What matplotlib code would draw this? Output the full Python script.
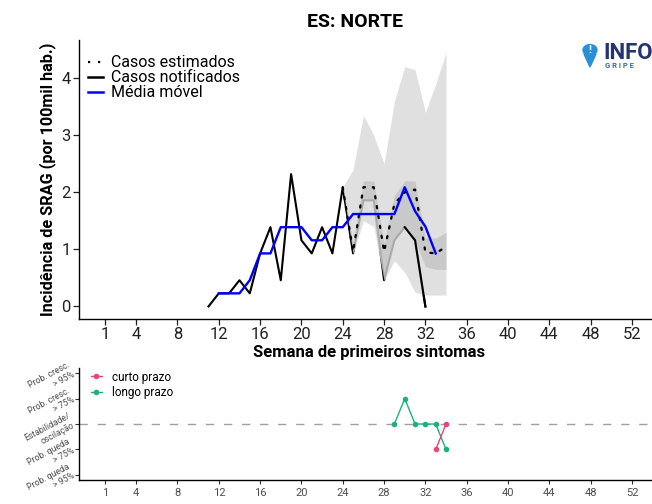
import matplotlib
matplotlib.use('Agg')
import matplotlib.pyplot as plt
import matplotlib.transforms as mtransforms
from matplotlib.lines import Line2D
from matplotlib.patches import Circle, Polygon

plt.rcParams['font.family'] = ['Roboto', 'DejaVu Sans']

# semanas epidemiologicas e incidencia (por 100mil hab.)
weeks_notif = list(range(11, 33))
notificados = [0.00, 0.23, 0.23, 0.46, 0.23, 0.93, 1.39, 0.46, 2.32, 1.16, 0.93,
               1.39, 0.93, 2.09, 0.93, 1.86, 1.86, 0.46, 1.16, 1.39, 1.16, 0.00]
weeks_mm = list(range(12, 34))
media_movel = [0.23, 0.23, 0.23, 0.46, 0.93, 0.93, 1.39, 1.39, 1.39, 1.16, 1.16,
               1.39, 1.39, 1.62, 1.62, 1.62, 1.62, 1.62, 2.09, 1.67, 1.40, 0.93]
weeks_est = list(range(24, 35))
estimados = [2.09, 0.96, 2.09, 2.09, 0.96, 1.80, 2.00, 2.05, 0.95, 0.93, 1.05]
ic95_inf = [2.09, 0.93, 1.50, 1.40, 0.46, 0.80, 0.60, 0.25, 0.20, 0.20, 0.20]
ic95_sup = [2.09, 2.40, 3.35, 3.00, 2.50, 3.60, 4.20, 4.15, 3.40, 3.90, 4.45]
ic50_inf = [2.09, 0.93, 1.86, 1.86, 0.46, 1.16, 1.39, 1.16, 0.70, 0.65, 0.65]
ic50_sup = [2.09, 1.10, 2.20, 2.20, 1.10, 1.95, 2.20, 2.20, 1.20, 1.20, 1.30]

# tendencia
weeks_longo = [29, 30, 31, 32, 33, 34]
longo_prazo = [0, 1, 0, 0, 0, -1]
weeks_curto = [33, 34]
curto_prazo = [-1, 0]
tend_levels = [2, 1, 0, -1, -2]
tend_labels = ['Prob. cresc.\n> 95%', 'Prob. cresc.\n> 75%', 'Estabilidade/\noscilação',
               'Prob. queda\n> 75%', 'Prob. queda\n> 95%']

xticks = [1, 4, 8, 12, 16, 20, 24, 28, 32, 36, 40, 44, 48, 52]

fig = plt.figure(figsize=(6.52, 5.04), dpi=100)
ax = fig.add_axes([0.1209, 0.367, 0.8888, 0.5536])
ax2 = fig.add_axes([0.1209, 0.0476, 0.8888, 0.2222])

# painel principal
ax.plot(weeks_notif, notificados, color='black', lw=1.5, zorder=2)
ax.fill_between(weeks_est, ic95_inf, ic95_sup, color='#d9d9d9', alpha=0.8, lw=0, zorder=3)
ax.fill_between(weeks_est, ic50_inf, ic50_sup, color='#a0a0a0', alpha=0.35, lw=0, zorder=3)
ax.plot(weeks_notif[-3:], notificados[-3:], color='black', lw=1.5, zorder=4)
ax.plot(weeks_est, estimados, color='black', lw=1.6, linestyle=(0, (1, 3.5)),
        dash_capstyle='round', zorder=5)
ax.plot(weeks_mm, media_movel, color='#0000ff', lw=1.7, zorder=6)

ax.set_xlim(-1.55, 54.55)
ax.set_ylim(-0.22, 4.67)
ax.set_xticks(xticks)
ax.set_yticks([0, 1, 2, 3, 4])
ax.tick_params(labelsize=12, length=4, width=0.9, colors='#222222', pad=2)
for s in ['top', 'right']:
    ax.spines[s].set_visible(False)
for s in ['left', 'bottom']:
    ax.spines[s].set_linewidth(1.0)
ax.set_xlabel('Semana de primeiros sintomas', fontsize=12, fontweight='bold', labelpad=2)
ax.set_ylabel('Incidência de SRAG (por 100mil hab.)', fontsize=11.7, fontweight='bold', labelpad=4)

handles = [Line2D([], [], color='black', lw=1.6, linestyle=(0, (1, 3.5))),
           Line2D([], [], color='black', lw=1.8),
           Line2D([], [], color='#0000ff', lw=1.8)]
ax.legend(handles, ['Casos estimados', 'Casos notificados', 'Média móvel'],
          loc='upper left', frameon=False, fontsize=11.5, handlelength=0.9,
          handletextpad=0.5, labelspacing=0.0, borderaxespad=0.2,
          bbox_to_anchor=(0.0, 0.98))

fig.text(355 / 652, 1 - 22 / 504, 'ES: NORTE', ha='center', va='center',
         fontsize=14, fontweight='bold')

# logo
fig.patches.append(Circle((590 / 652, 1 - 50 / 504), 7 / 652, transform=fig.transFigure,
                          color='#2a8fd4', zorder=10))
fig.patches.append(Polygon([(584 / 652, 1 - 54 / 504), (596 / 652, 1 - 54 / 504),
                            (590 / 652, 1 - 67 / 504)], transform=fig.transFigure,
                           color='#2a8fd4', zorder=10))
fig.text(590 / 652, 1 - 50 / 504, '!', ha='center', va='center', fontsize=8,
         fontweight='bold', color='white', zorder=11)
fig.text(603 / 652, 1 - 59 / 504, 'INFO', ha='left', va='baseline', fontsize=16,
         fontweight='bold', color='#23346e')
fig.text(605 / 652, 1 - 66 / 504, 'G R I P E', ha='left', va='center', fontsize=5.5,
         fontweight='bold', color='#2e6db4')

# painel de tendencia
ax2.axhline(0, color='#a0a0a0', lw=1.0, linestyle=(0, (6, 7)), zorder=1)
ax2.plot(weeks_curto, curto_prazo, color='#e8457a', lw=1.0, marker='o', ms=3, zorder=3)
ax2.plot(weeks_longo, longo_prazo, color='#1db07e', lw=1.0, marker='o', ms=3, zorder=2)
ax2.set_xlim(-1.55, 54.55)
ax2.set_ylim(-2.2, 2.2)
ax2.set_xticks(xticks)
ax2.set_yticks(tend_levels)
ax2.set_yticklabels(tend_labels, rotation=28, ha='right', va='center',
                    rotation_mode='anchor', multialignment='right')
ax2.tick_params(axis='x', labelsize=8, length=3, width=0.8, colors='#333333',
                labelcolor='#4d4d4d', pad=3)
ax2.tick_params(axis='y', labelsize=6.2, length=3, width=0.8, colors='#333333',
                labelcolor='#4d4d4d', pad=2)
shift = mtransforms.ScaledTranslation(0, 4 / 100, fig.dpi_scale_trans)
for lbl in ax2.get_yticklabels():
    lbl.set_transform(lbl.get_transform() + shift)
for s in ['top', 'right']:
    ax2.spines[s].set_visible(False)
for s in ['left', 'bottom']:
    ax2.spines[s].set_linewidth(1.0)

h2 = [Line2D([], [], color='#e8457a', lw=1.0, marker='o', ms=3),
      Line2D([], [], color='#1db07e', lw=1.0, marker='o', ms=3)]
ax2.legend(h2, ['curto prazo', 'longo prazo'], loc='upper left', frameon=False,
           fontsize=8.5, handlelength=1.0, handletextpad=0.8, labelspacing=0.2,
           borderaxespad=0.1, bbox_to_anchor=(0.01, 1.03))

fig.savefig('out.png', dpi=100)
